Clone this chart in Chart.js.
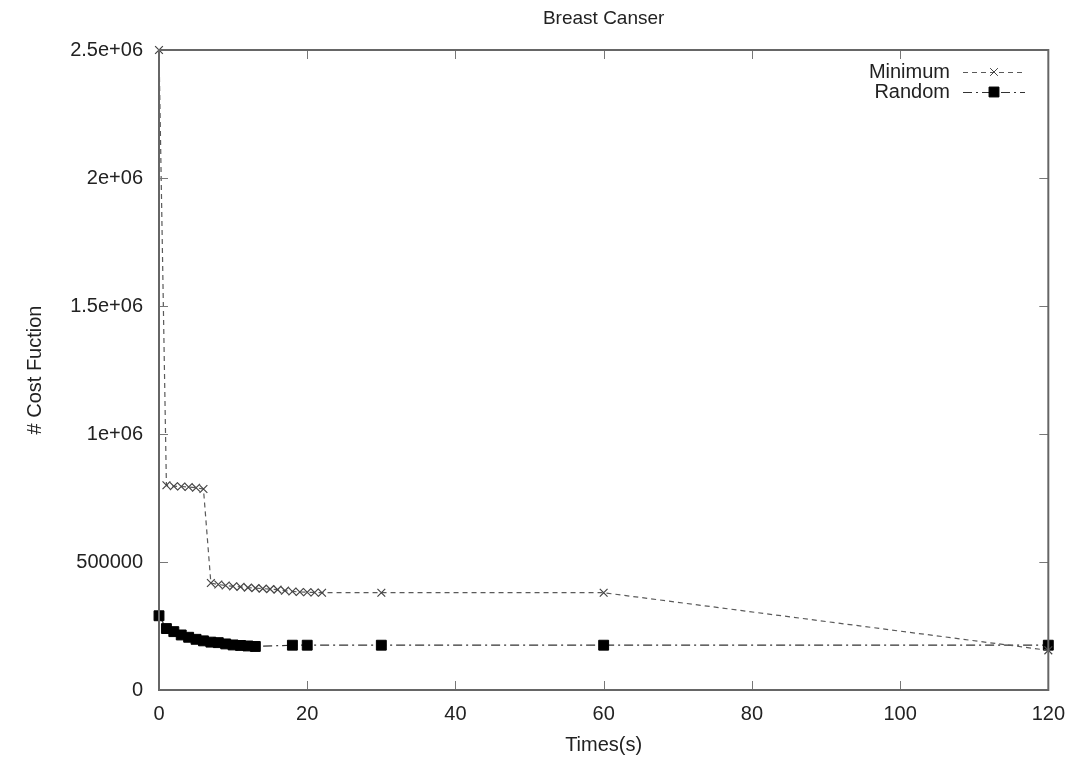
<!DOCTYPE html>
<html>
<head>
<meta charset="utf-8">
<title>Breast Canser</title>
<script src="https://cdn.jsdelivr.net/npm/chart.js@4.4.1/dist/chart.umd.min.js"></script>
<style>
    html, body { margin: 0; padding: 0; background: #fff; }
    #costChart { display: block; }
</style>
</head>
<body>
<canvas id="costChart" width="1077" height="763"></canvas>
<script>
// 数据
const timesMin = [0, 1, 2, 3, 4, 5, 6, 7, 8, 9, 10, 11, 12, 13, 14, 15, 16, 17, 18, 19, 20, 21, 22, 30, 60, 120];
const costMin = [2500000, 800000, 796000, 795000, 793000, 790000, 785000,
    418000, 412000, 408000, 405000, 403000, 400000, 398000, 396000, 394000,
    392000, 388000, 385000, 383000, 382000, 381000, 380000, 380000, 380000, 155000];

const timesRand = [0, 1, 2, 3, 4, 5, 6, 7, 8, 9, 10, 11, 12, 13, 18, 20, 30, 60, 120];
const costRand = [290000, 240000, 228000, 215000, 206000, 198000, 192000, 187000, 185000,
    180000, 176000, 174000, 172000, 170000, 175000, 175000, 175000, 175000, 175000];

const xTicks = [0, 20, 40, 60, 80, 100, 120];
const yTicks = [0, 500000, 1000000, 1500000, 2000000, 2500000];
const yTickLabels = ['0', '500000', '1e+06', '1.5e+06', '2e+06', '2.5e+06'];

const FONT = 'Liberation Sans, Arial, Helvetica, sans-serif';
const FONT_SIZE = 20;
const TEXT_COLOR = '#222';

function toPoints(xs, ys) {
    return xs.map((x, i) => ({ x: x, y: ys[i] }));
}

// gnuplot 风格: 边框 + 向内的刻度 (四边)
const framePlugin = {
    id: 'frame',
    afterDatasetsDraw(chart) {
        const ctx = chart.ctx;
        const a = chart.chartArea;
        const xs = chart.scales.x;
        const ys = chart.scales.y;
        const len = 9;
        ctx.save();
        ctx.strokeStyle = '#777';
        ctx.lineWidth = 1;
        ctx.beginPath();
        xTicks.forEach(v => {
            const px = Math.round(xs.getPixelForValue(v)) + 0.5;
            ctx.moveTo(px, a.bottom); ctx.lineTo(px, a.bottom - len);
            ctx.moveTo(px, a.top); ctx.lineTo(px, a.top + len);
        });
        yTicks.forEach(v => {
            const py = Math.round(ys.getPixelForValue(v)) + 0.5;
            ctx.moveTo(a.left, py); ctx.lineTo(a.left + len, py);
            ctx.moveTo(a.right, py); ctx.lineTo(a.right - len, py);
        });
        ctx.stroke();
        ctx.strokeStyle = '#666';
        ctx.lineWidth = 2;
        ctx.strokeRect(a.left, a.top, a.right - a.left, a.bottom - a.top);
        ctx.restore();
    }
};

// 图例: 文字在左, 线型样例在右
const keyPlugin = {
    id: 'key',
    afterDraw(chart) {
        const ctx = chart.ctx;
        const textRight = 950;
        const lineX0 = 963, lineX1 = 1025;
        ctx.save();
        ctx.font = FONT_SIZE + 'px ' + FONT;
        ctx.textAlign = 'right';
        ctx.textBaseline = 'middle';
        chart.data.datasets.forEach((ds, i) => {
            const y = 72 + i * 20;
            ctx.fillStyle = TEXT_COLOR;
            ctx.fillText(ds.label, textRight, y);
            ctx.save();
            ctx.strokeStyle = ds.borderColor;
            ctx.lineWidth = ds.borderWidth;
            ctx.setLineDash(ds.borderDash);
            ctx.beginPath();
            ctx.moveTo(lineX0, y + 0.5);
            ctx.lineTo(lineX1, y + 0.5);
            ctx.stroke();
            ctx.restore();
            ctx.strokeStyle = ds.pointBorderColor;
            ctx.fillStyle = ds.pointBackgroundColor;
            ctx.lineWidth = 1;
            Chart.helpers.drawPoint(ctx, {
                pointStyle: ds.pointStyle,
                radius: ds.pointRadius,
                rotation: 0,
                borderWidth: 1
            }, (lineX0 + lineX1) / 2, y);
        });
        ctx.restore();
    }
};

const ctx = document.getElementById('costChart').getContext('2d');
const costChart = new Chart(ctx, {
    type: 'line',
    data: {
        datasets: [{
            label: 'Minimum',
            data: toPoints(timesMin, costMin),
            borderColor: '#5a5a5a',
            borderWidth: 1.2,
            borderDash: [5, 4],
            pointStyle: 'crossRot',
            pointRadius: 5.5,
            pointBorderColor: '#444',
            pointBackgroundColor: '#444',
            pointBorderWidth: 1.2,
            fill: false,
            tension: 0
        }, {
            label: 'Random',
            data: toPoints(timesRand, costRand),
            borderColor: '#333',
            borderWidth: 1.2,
            borderDash: [9, 4, 2, 4],
            pointStyle: 'rect',
            pointRadius: 7,
            pointBorderColor: '#000',
            pointBackgroundColor: '#000',
            pointBorderWidth: 1,
            fill: false,
            tension: 0
        }]
    },
    options: {
        responsive: false,
        animation: false,
        clip: false,
        layout: { padding: { left: 0, right: 27, top: 0, bottom: 0 } },
        plugins: {
            legend: { display: false },
            tooltip: { enabled: false },
            title: {
                display: true,
                fullSize: false,
                text: 'Breast Canser',
                color: TEXT_COLOR,
                font: { family: FONT, size: 19, weight: 'normal', lineHeight: 1.2 },
                padding: { top: 7, bottom: 20.2 }
            }
        },
        scales: {
            x: {
                type: 'linear',
                min: 0,
                max: 120,
                afterFit(scale) { scale.height = 73; },
                afterBuildTicks(scale) { scale.ticks = xTicks.map(v => ({ value: v })); },
                grid: { display: false, drawTicks: false },
                border: { display: false },
                ticks: {
                    color: TEXT_COLOR,
                    padding: 12,
                    maxRotation: 0,
                    font: { family: FONT, size: FONT_SIZE }
                },
                title: {
                    display: true,
                    text: 'Times(s)',
                    color: TEXT_COLOR,
                    font: { family: FONT, size: FONT_SIZE },
                    padding: { top: 0, bottom: 6 }
                }
            },
            y: {
                type: 'linear',
                min: 0,
                max: 2500000,
                afterFit(scale) { scale.width = 159; },
                afterBuildTicks(scale) { scale.ticks = yTicks.map(v => ({ value: v })); },
                grid: { display: false, drawTicks: false },
                border: { display: false },
                ticks: {
                    color: TEXT_COLOR,
                    padding: 16,
                    font: { family: FONT, size: FONT_SIZE },
                    callback: (value) => yTickLabels[yTicks.indexOf(value)] ?? ''
                },
                title: {
                    display: true,
                    text: '# Cost Fuction',
                    color: TEXT_COLOR,
                    font: { family: FONT, size: FONT_SIZE },
                    padding: { top: 23, bottom: 0 }
                }
            }
        }
    },
    plugins: [framePlugin, keyPlugin]
});
</script>
</body>
</html>
